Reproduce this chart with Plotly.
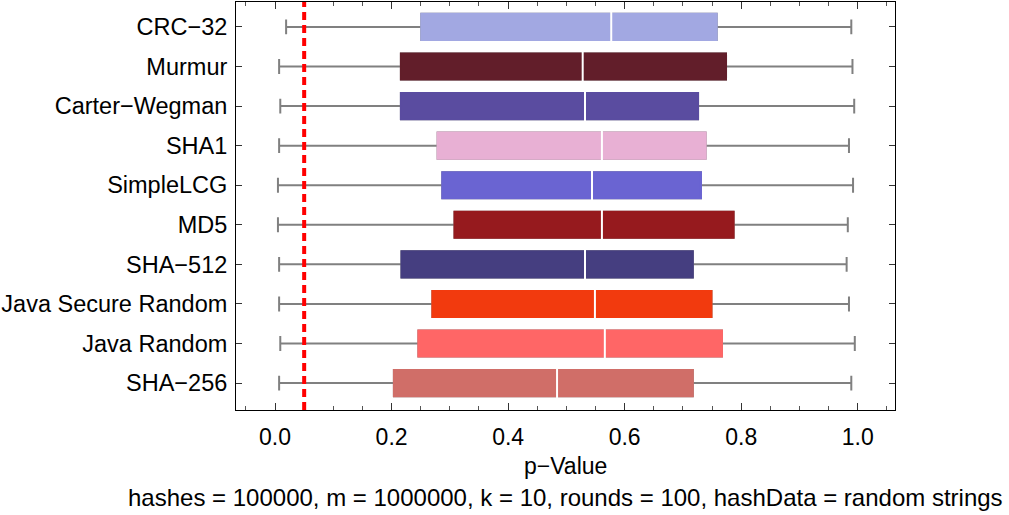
import plotly.graph_objects as go

categories = ["CRC−32", "Murmur", "Carter−Wegman", "SHA1", "SimpleLCG", "MD5",
              "SHA−512", "Java Secure Random", "Java Random", "SHA−256"]
whisker_min = [0.019, 0.007, 0.009, 0.007, 0.005, 0.005, 0.007, 0.007, 0.009, 0.007]
q1 = [0.251, 0.216, 0.216, 0.279, 0.287, 0.308, 0.217, 0.270, 0.246, 0.204]
median = [0.577, 0.528, 0.532, 0.561, 0.544, 0.561, 0.532, 0.549, 0.566, 0.484]
q3 = [0.758, 0.774, 0.726, 0.739, 0.731, 0.787, 0.717, 0.749, 0.767, 0.717]
whisker_max = [0.989, 0.991, 0.994, 0.985, 0.992, 0.983, 0.981, 0.985, 0.995, 0.989]
colors = ["#A2A8E2", "#621E2A", "#5A4CA0", "#E8B0D4", "#6A64D2", "#961A1E",
          "#453E80", "#F23A0E", "#FF6666", "#D06E68"]
threshold = 0.05
x_tickvals = [0.0, 0.2, 0.4, 0.6, 0.8, 1.0]
x_ticktext = ["0.0", "0.2", "0.4", "0.6", "0.8", "1.0"]
x_title = "p−Value"
subtitle = "hashes = 100000, m = 1000000, k = 10, rounds = 100, hashData = random strings"

FONT = "Liberation Sans, Arial, sans-serif"
BOXW = 0.66

fig = go.Figure()

# whiskers (gray box underneath)
for i, c in enumerate(categories):
    fig.add_trace(go.Box(
        y=[c], q1=[q1[i]], median=[median[i]], q3=[q3[i]],
        lowerfence=[whisker_min[i]], upperfence=[whisker_max[i]],
        orientation="h", width=BOXW, whiskerwidth=0.57,
        line=dict(color="#808080", width=2), fillcolor="#808080",
        boxpoints=False, showlegend=False, hoverinfo="skip"))

# colored boxes (no whiskers)
for i, c in enumerate(categories):
    fig.add_trace(go.Box(
        y=[c], q1=[q1[i]], median=[median[i]], q3=[q3[i]],
        lowerfence=[q1[i]], upperfence=[q3[i]],
        orientation="h", width=BOXW, whiskerwidth=0,
        line=dict(color=colors[i], width=2), fillcolor=colors[i],
        boxpoints=False, showlegend=False, hoverinfo="skip"))

# medians
fig.add_trace(go.Scatter(
    x=median, y=categories, mode="markers",
    marker=dict(symbol="line-ns-open", size=27, color="white",
                line=dict(color="white", width=2)),
    showlegend=False, hoverinfo="skip"))

fig.add_shape(type="line", xref="x", yref="paper", x0=threshold, x1=threshold,
              y0=0, y1=1, line=dict(color="#FF0000", width=4, dash="8px,5px"),
              layer="above")

fig.update_layout(
    width=1009, height=515,
    margin=dict(l=236, r=114, t=2, b=105),
    paper_bgcolor="white", plot_bgcolor="white",
    boxmode="overlay",
    font=dict(family=FONT, size=23, color="black"),
    xaxis=dict(range=[-0.067, 1.064], tickvals=x_tickvals, ticktext=x_ticktext,
               ticks="inside", ticklen=7, tickwidth=1, tickcolor="#333",
               minor=dict(dtick=0.05, tick0=0, ticks="inside", ticklen=4, tickcolor="#555"),
               showline=True, linecolor="black", linewidth=1, mirror="allticks",
               showgrid=False, zeroline=False,
               tickfont=dict(size=23), ticklabelstandoff=6),
    yaxis=dict(type="category", categoryorder="array", categoryarray=categories,
               range=[9.68, -0.63],
               ticks="inside", ticklen=6, tickwidth=1, tickcolor="#333",
               showline=True, linecolor="black", linewidth=1, mirror="ticks",
               showgrid=False, zeroline=False,
               tickfont=dict(size=23.5), ticklabelstandoff=3),
)

fig.add_annotation(text=x_title, xref="paper", yref="paper", x=0.5, y=0,
                   xanchor="center", yanchor="middle", yshift=-56, showarrow=False,
                   font=dict(size=23))
fig.add_annotation(text=subtitle, xref="paper", yref="paper", x=0.5, y=0,
                   xanchor="center", yanchor="middle", yshift=-87, showarrow=False,
                   font=dict(size=24))

fig.write_html("out.html", post_script="document.body.style.margin='0px';",
               config={"displayModeBar": False})
